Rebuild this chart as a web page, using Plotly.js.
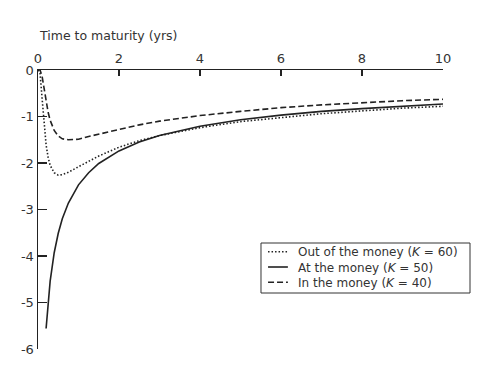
<!DOCTYPE html>
<html><head><meta charset="utf-8">
<script src="https://cdn.plot.ly/plotly-3.0.1.min.js"></script>
<style>html,body{margin:0;padding:0;background:#fff}#chart{width:503px;height:367px}</style>
</head><body><div id="chart"></div>
<script>
// Time to maturity (years)
const tOut = [0, 0.05, 0.1, 0.15, 0.2, 0.25, 0.3, 0.4, 0.5, 0.6, 0.75, 1, 1.25, 1.5, 2, 2.5, 3, 4, 5, 6, 7, 8, 9, 10];
const outOfMoney = [0, -0.06, -0.60, -1.20, -1.61, -1.88, -2.05, -2.21, -2.26, -2.25, -2.20, -2.08, -1.96, -1.85, -1.66, -1.52, -1.41, -1.24, -1.11, -1.02, -0.94, -0.88, -0.82, -0.78];
const tIn = [0, 0.05, 0.1, 0.15, 0.2, 0.25, 0.3, 0.4, 0.5, 0.6, 0.75, 1, 1.25, 1.5, 2, 2.5, 3, 4, 5, 6, 7, 8, 9, 10];
const inTheMoney = [0, 0, -0.13, -0.40, -0.68, -0.91, -1.08, -1.30, -1.42, -1.48, -1.50, -1.49, -1.43, -1.38, -1.27, -1.18, -1.10, -0.98, -0.89, -0.81, -0.75, -0.70, -0.66, -0.63];
const tAt = [0.2, 0.25, 0.3, 0.4, 0.5, 0.6, 0.75, 1, 1.25, 1.5, 2, 2.5, 3, 4, 5, 6, 7, 8, 9, 10];
const atTheMoney = [-5.56, -4.98, -4.54, -3.93, -3.51, -3.20, -2.86, -2.47, -2.21, -2.01, -1.74, -1.55, -1.41, -1.21, -1.07, -0.97, -0.89, -0.83, -0.78, -0.73];

const seriesNames = ['Out of the money (<i>K</i> = 60)', 'At the money (<i>K</i> = 50)', 'In the money (<i>K</i> = 40)'];
const xTickVals = [0, 2, 4, 6, 8, 10];
const xTickText = ['0', '2', '4', '6', '8', '10'];
const yTickVals = [0, -1, -2, -3, -4, -5, -6];
const yTickText = ['0', '-1', '-2', '-3', '-4', '-5', '-6'];
const xTitle = 'Time to maturity (yrs)';

const ink = '#222';
const font = 'DejaVu Sans, Open Sans, sans-serif';
const dashes = ['1.5px,2px', 'solid', '6px,3px'];

const traces = [
  {x: tOut, y: outOfMoney, name: seriesNames[0], mode: 'lines', line: {color: ink, width: 1.6, dash: dashes[0]}},
  {x: tAt, y: atTheMoney, name: seriesNames[1], mode: 'lines', line: {color: ink, width: 1.6, dash: dashes[1]}},
  {x: tIn, y: inTheMoney, name: seriesNames[2], mode: 'lines', line: {color: ink, width: 1.6, dash: dashes[2]}}
];

// Hand-built compact legend (paper coordinates)
const legBox = {x0: 0.5506, x1: 1.0667, y0: 0.2007, y1: 0.3799};
const legRows = [0.3487, 0.2939, 0.2391];
const legSample = [0.568, 0.617];
const legTextX = 0.6395;

const shapes = [{type: 'rect', xref: 'paper', yref: 'paper', x0: legBox.x0, x1: legBox.x1, y0: legBox.y0, y1: legBox.y1,
                 line: {color: '#333', width: 1}, fillcolor: '#fff', layer: 'above'}];
seriesNames.forEach((nm, i) => {
  shapes.push({type: 'line', xref: 'paper', yref: 'paper', x0: legSample[0], x1: legSample[1], y0: legRows[i], y1: legRows[i],
               line: {color: ink, width: 1.6, dash: dashes[i]}, layer: 'above'});
});
const annotations = [
  {text: xTitle, xref: 'paper', yref: 'paper', x: 0, y: 1, xanchor: 'left', yanchor: 'middle',
   yshift: 35, xshift: -1, showarrow: false, font: {family: font, size: 12.5, color: '#333'}},
  {text: seriesNames.join('<br>'), xref: 'paper', yref: 'paper', x: legTextX, y: legRows[1], xanchor: 'left', yanchor: 'middle',
   align: 'left', showarrow: false, borderpad: 0, font: {family: font, size: 12, color: '#333'}}
];

const layout = {
  width: 503, height: 367,
  margin: {l: 38, r: 60, t: 70, b: 18},
  paper_bgcolor: '#fff', plot_bgcolor: '#fff',
  font: {family: font, size: 13, color: '#333'},
  showlegend: false,
  xaxis: {range: [0, 10], side: 'top', showgrid: false, zeroline: false,
          showline: true, linecolor: ink, linewidth: 1.5,
          ticks: 'inside', ticklen: 6, tickwidth: 1.3, tickcolor: ink,
          tickvals: xTickVals, ticktext: xTickText, tickfont: {family: font, size: 13, color: '#333'}},
  yaxis: {range: [-6, 0], showgrid: false, zeroline: false,
          showline: true, linecolor: ink, linewidth: 1.5,
          ticks: 'inside', ticklen: 9, tickwidth: 1.3, tickcolor: ink,
          tickvals: yTickVals, ticktext: yTickText, tickfont: {family: font, size: 13, color: '#333'}},
  shapes: shapes,
  annotations: annotations
};

Plotly.newPlot('chart', traces, layout, {displayModeBar: false, staticPlot: true});
</script>
</body></html>
